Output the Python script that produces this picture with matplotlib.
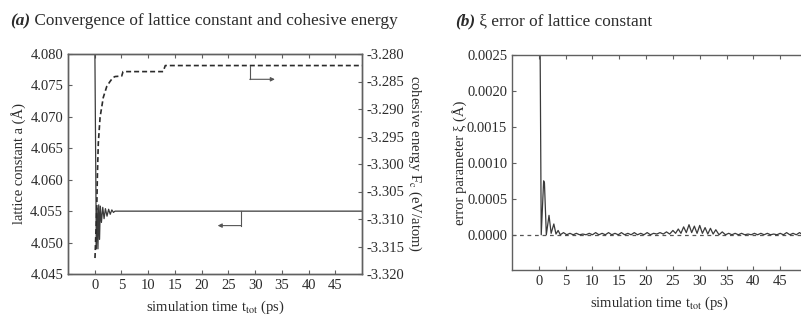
import matplotlib
matplotlib.use("Agg")
import matplotlib.pyplot as plt
import numpy as np

plt.rcParams["font.family"] = ["Liberation Serif", "DejaVu Serif"]
plt.rcParams["mathtext.fontset"] = "stix"

# (a) lattice constant a (Å) vs simulation time (ps), left axis
lat_t = [0.0, 0.02, 0.3, 0.45, 0.6, 0.75, 0.9, 1.05, 1.25, 1.5, 1.75, 2.0,
         2.3, 2.6, 2.9, 3.2, 3.5, 3.8, 50.0]
lat_a = [4.0815, 4.0815, 4.0490, 4.0555, 4.0490, 4.0560, 4.0505, 4.0558,
         4.0532, 4.0556, 4.0538, 4.0554, 4.0542, 4.0553, 4.0545, 4.0552,
         4.0548, 4.0550, 4.0550]

# (a) cohesive energy Fc (eV/atom), right axis
coh_t = [0.05, 0.2, 0.37, 0.5, 0.67, 1.0, 1.6, 2.25, 2.86, 3.4, 3.8, 5.05,
         5.3, 12.8, 13.2, 50.0]
coh_e = [-3.3171, -3.3130, -3.3084, -3.3020, -3.2962, -3.2915, -3.2879,
         -3.2859, -3.2850, -3.2843, -3.2841, -3.2840, -3.2832, -3.2832,
         -3.2821, -3.2821]

# (b) error parameter xi, in units of 1e-5 Å
xi_t = [0.2, 0.25, 0.45, 0.9, 1.05, 1.4, 1.9, 2.3, 2.8, 3.2, 3.6, 4.0,
        4.6, 5.2, 5.8, 6.4, 7.0, 7.6, 8.2, 8.8, 9.4, 10.0, 10.6, 11.2, 11.8,
        12.4, 13.0, 13.6, 14.2, 14.8, 15.4, 16.0, 16.6, 17.2, 17.8, 18.4,
        19.0, 19.6, 20.2, 20.8, 21.4, 22.0, 22.6, 23.2, 23.8, 24.4, 25.0,
        25.5, 26.0, 26.5, 27.0, 27.5, 28.0, 28.5, 29.0, 29.5, 30.0, 30.5,
        31.0, 31.5, 32.0, 32.5, 33.0, 33.6, 34.2, 34.8, 35.4, 36.0, 36.6,
        37.2, 37.8, 38.4, 39.0, 39.6, 40.2, 40.8, 41.4, 42.0, 42.6, 43.2,
        43.8, 44.4, 45.0, 45.6, 46.2, 46.8, 47.4, 48.0, 48.6, 49.2, 49.8]
xi_v = [260, 250, 0, 75, 72, 0, 27, 2, 15, 1, 6, 0,
        3, 0, 2, 0, 2, 0, 1, 0, 2, 0, 3, 0, 2,
        0, 3, 0, 2, 0, 3, 0, 2, 0, 3, 0,
        2, 0, 3, 0, 2, 1, 3, 1, 4, 1, 6,
        2, 8, 2, 11, 3, 14, 3, 12, 2, 13, 2,
        10, 1, 9, 1, 7, 0, 4, 0, 2, 0, 2,
        0, 2, 0, 1, 0, 2, 0, 2, 0, 2, 0,
        1, 0, 2, 0, 3, 0, 2, 0, 3, 0, 2]

x_ticks = [0, 5, 10, 15, 20, 25, 30, 35, 40, 45]
lat_ticks = [4.045, 4.050, 4.055, 4.060, 4.065, 4.070, 4.075, 4.080]
coh_ticks = [-3.320, -3.315, -3.310, -3.305, -3.300, -3.295, -3.290,
             -3.285, -3.280]
xi_ticks = [0.0, 0.0005, 0.0010, 0.0015, 0.0020, 0.0025]

INK = "#2b2b2b"
FRAME = "#606060"
FS = 10.5
TITLE_FS = 12.4


def style_axes(ax):
    for sp in ax.spines.values():
        sp.set_color(FRAME)
        sp.set_linewidth(1.0)
    ax.tick_params(direction="in", length=3, width=0.8, color=FRAME,
                   labelsize=FS, labelcolor=INK)


fig = plt.figure(figsize=(8.01, 3.2), dpi=100)

# ---- panel (a)
ax = fig.add_axes([68 / 801, 46 / 320, 294 / 801, 220 / 320])
ax2 = ax.twinx()
style_axes(ax)
style_axes(ax2)
ax.plot(lat_t, lat_a, color="#3a3a3a", lw=0.9)
ax2.plot(coh_t, coh_e, color=INK, lw=1.2, ls=(0, (3, 1.8)))
ax.set_xlim(-5, 50)
ax.set_ylim(4.045, 4.080)
ax2.set_ylim(-3.320, -3.280)
ax.set_xticks(x_ticks)
ax.set_yticks(lat_ticks)
ax.set_yticklabels([f"{v:.3f}" for v in lat_ticks])
ax2.set_yticks(coh_ticks)
ax2.set_yticklabels([f"{v:.3f}" for v in coh_ticks])
ax.tick_params(top=True, right=False)
ax.set_xlabel(r"simulation time t$_{\mathrm{tot}}$ (ps)", fontsize=FS,
              color=INK, labelpad=5)
ax.set_ylabel("lattice constant a (Å)", fontsize=FS, color=INK, labelpad=3)
ax2.set_ylabel(r"cohesive energy F$_{\mathrm{c}}$ (eV/atom)", fontsize=FS,
               color=INK, rotation=270, labelpad=13)

# arrows pointing at the axis each curve belongs to
ax2.plot([29.0, 29.0], [-3.2821, -3.2846], color="#555555", lw=0.8)
ax2.annotate("", xy=(33.7, -3.2846), xytext=(29.0, -3.2846),
             arrowprops=dict(arrowstyle="-|>", color="#555555", lw=0.8,
                             mutation_scale=6, shrinkA=0, shrinkB=0))
ax.plot([27.4, 27.4], [4.0550, 4.0527], color="#555555", lw=0.8)
ax.annotate("", xy=(23.0, 4.0527), xytext=(27.4, 4.0527),
            arrowprops=dict(arrowstyle="-|>", color="#555555", lw=0.8,
                            mutation_scale=6, shrinkA=0, shrinkB=0))

# ---- panel (b)
bx = fig.add_axes([512 / 801, 50 / 320, 295 / 801, 215 / 320])
style_axes(bx)
bx.axhline(0, color="#555555", lw=0.9, ls=(0, (3, 3)))
bx.plot(xi_t, np.array(xi_v) * 1e-5, color="#3a3a3a", lw=0.9)
bx.set_xlim(-5, 50)
bx.set_ylim(-0.00049, 0.0025)
bx.set_xticks(x_ticks)
bx.set_yticks(xi_ticks)
bx.set_yticklabels([f"{v:.4f}" for v in xi_ticks])
bx.tick_params(top=True, right=True)
bx.set_xlabel(r"simulation time t$_{\mathrm{tot}}$ (ps)", fontsize=FS,
              color=INK, labelpad=5)
bx.set_ylabel("error parameter ξ (Å)", fontsize=FS, color=INK, labelpad=0)

# ---- titles: bold italic tag followed by plain text
for x0, tag, rest in [(10, "(a)", " Convergence of lattice constant and cohesive energy"),
                      (455, "(b)", " ξ error of lattice constant")]:
    t1 = fig.text(x0 / 801, 1 - 25 / 320, tag, fontsize=TITLE_FS, color=INK,
                  fontweight="bold", fontstyle="italic")
    fig.add_artist(matplotlib.text.Annotation(
        rest, xy=(1, 0), xycoords=t1, va="bottom", fontsize=TITLE_FS,
        color=INK))

fig.savefig("out.png", dpi=100)
